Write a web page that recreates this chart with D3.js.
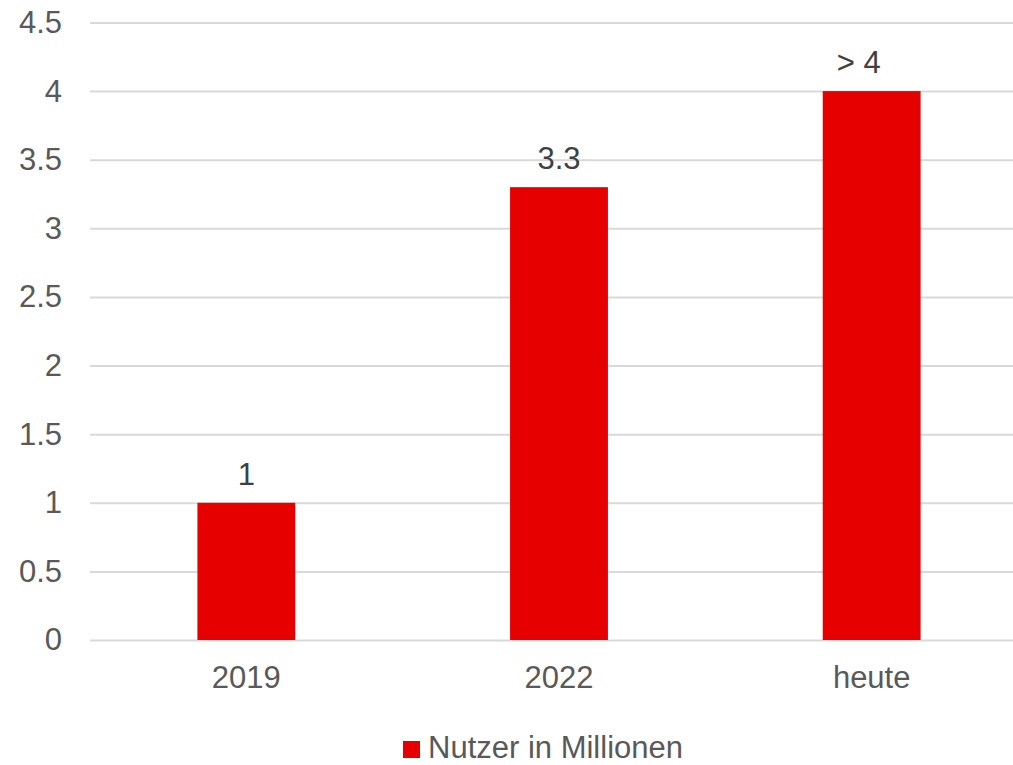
<!DOCTYPE html>
<html>
<head>
<meta charset="utf-8">
<script src="https://cdn.jsdelivr.net/npm/d3@7"></script>
<style>
  body { margin: 0; background: #fff; }
  svg { display: block; font-family: "Liberation Sans", Arial, sans-serif; }
</style>
</head>
<body>
<div id="main"></div>
<script>
// chart data
const categories = ["2019", "2022", "heute"];
const values = [1, 3.3, 4];
const valueLabels = ["1", "3.3", "> 4"];
const yTicks = [0, 0.5, 1, 1.5, 2, 2.5, 3, 3.5, 4, 4.5];
const seriesName = "Nutzer in Millionen";

const width = 1013, height = 765;
const barColor = "#e60000";

let svg = d3.select("#main")
	.append("svg")
	.attr("width", width)
	.attr("height", height);

// plot area runs past the right edge, like the original crop
let x = d3.scaleBand()
	.domain(categories)
	.range([90, 1028])
	.paddingInner(0.687)
	.paddingOuter(0.3435);

let y = d3.scaleLinear()
	.domain([0, 4.5])
	.range([640, 22.5]);

// gridlines + y labels
let yAxis = svg.append("g")
	.attr("transform", "translate(90,0)")
	.call(d3.axisLeft(y)
		.tickValues(yTicks)
		.tickSize(-(width - 90))
		.tickPadding(28)
		.tickFormat(d => String(d)));
yAxis.select(".domain").remove();
yAxis.selectAll(".tick line").attr("stroke", "#d9d9d9").attr("stroke-width", 2);
yAxis.selectAll(".tick text")
	.attr("fill", "#595959")
	.attr("font-size", "31px")
	.attr("font-family", "Liberation Sans, Arial, sans-serif");

// bars
svg.selectAll("rect.bar")
	.data(values)
	.enter()
	.append("rect")
	.attr("class", "bar")
	.attr("fill", barColor)
	.attr("x", (d, i) => x(categories[i]))
	.attr("width", x.bandwidth())
	.attr("y", d => y(d))
	.attr("height", d => y(0) - y(d));

// value labels (the "> 4" one sits a bit left of its bar in the original)
svg.selectAll("text.value")
	.data(values)
	.enter()
	.append("text")
	.attr("class", "value")
	.attr("x", (d, i) => x(categories[i]) + x.bandwidth() / 2)
	.attr("dx", (d, i) => i === 2 ? -13 : 0)
	.attr("y", d => y(d) - 18)
	.attr("text-anchor", "middle")
	.attr("fill", "#404040")
	.attr("font-size", "31px")
	.text((d, i) => valueLabels[i]);

// x labels
let xAxis = svg.append("g")
	.attr("transform", "translate(0,640)")
	.call(d3.axisBottom(x).tickSize(0).tickPadding(26));
xAxis.select(".domain").remove();
xAxis.selectAll(".tick text")
	.attr("fill", "#595959")
	.attr("font-size", "31px")
	.attr("font-family", "Liberation Sans, Arial, sans-serif");

// legend
let legend = svg.append("g").attr("transform", "translate(403,741)");
legend.append("rect")
	.attr("width", 17)
	.attr("height", 17)
	.attr("fill", barColor);
legend.append("text")
	.attr("x", 25)
	.attr("y", 17)
	.attr("fill", "#595959")
	.attr("font-size", "31px")
	.text(seriesName);
</script>
</body>
</html>
